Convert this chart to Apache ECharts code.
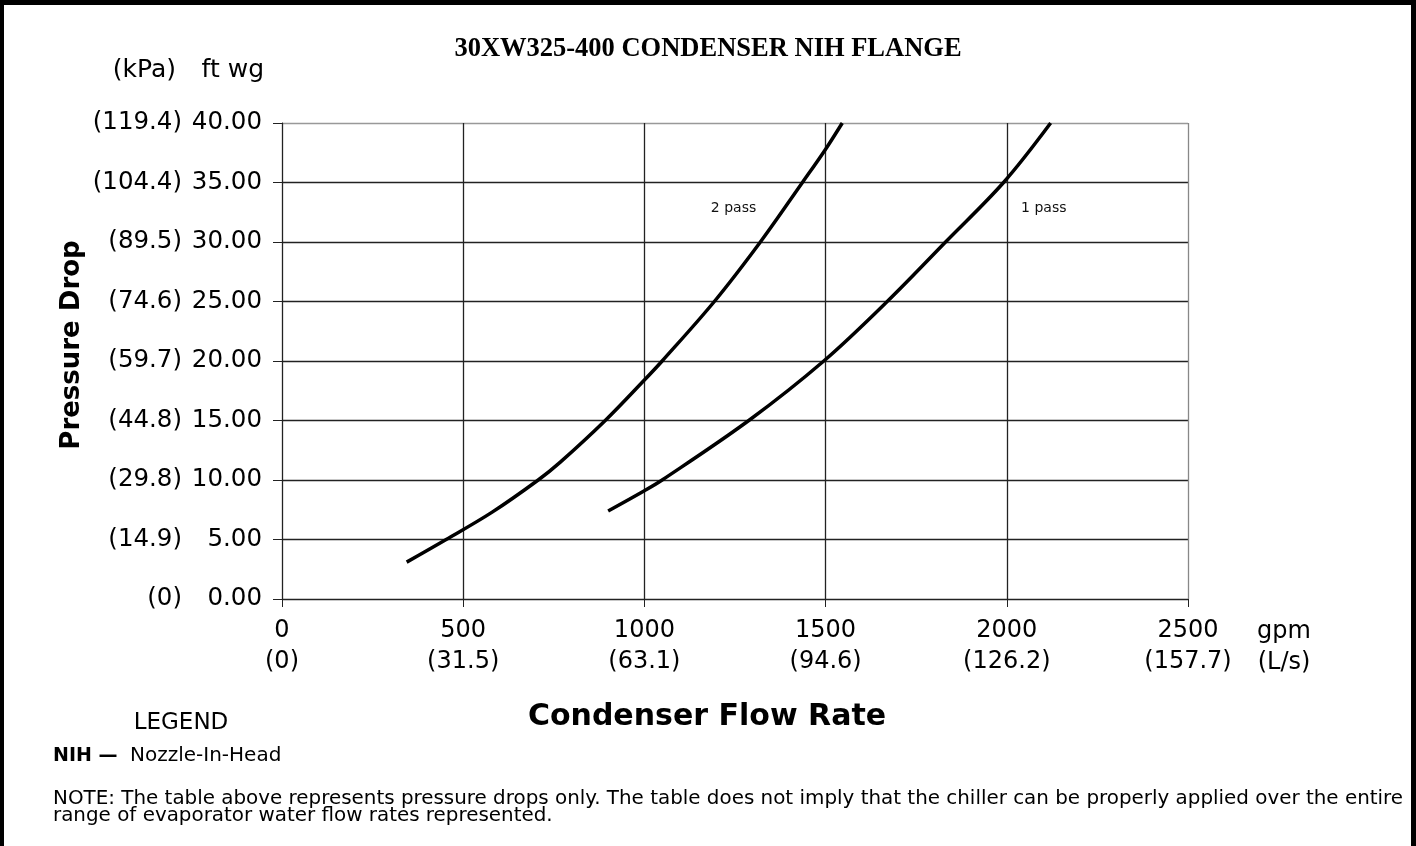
<!DOCTYPE html>
<html>
<head>
<meta charset="utf-8">
<script src="https://cdn.jsdelivr.net/npm/echarts@6/dist/echarts.min.js"></script>
<style>
  html, body { margin: 0; padding: 0; background: #fff; }
  #chart { width: 1416px; height: 846px; }
</style>
</head>
<body>
<div id="chart"></div>
<script>
// axis ticks
const gpmTicks = [0, 500, 1000, 1500, 2000, 2500]
const lpsLabels = ['0', '31.5', '63.1', '94.6', '126.2', '157.7']
const ftTicks = [0, 5, 10, 15, 20, 25, 30, 35, 40]
const kpaLabels = ['0', '14.9', '29.8', '44.8', '59.7', '74.6', '89.5', '104.4', '119.4']

// curves (gpm, ft wg)
const twoPassGpm = [344, 453, 580, 707, 768, 892, 1000, 1049, 1193, 1320, 1436, 1500, 1546]
const twoPassFt = [3.1, 5.0, 7.3, 10.0, 11.5, 15.0, 18.4, 20.0, 25.0, 30.0, 35.0, 37.8, 40.0]
const onePassGpm = [900, 1000, 1049, 1288, 1495, 1670, 1831, 1991, 2121]
const onePassFt = [7.4, 9.1, 10.0, 15.0, 20.0, 25.0, 30.0, 35.0, 40.0]

const font = 'DejaVu Sans'

let myChart = echarts.init(document.getElementById('chart'))

function pairs (xs, ys) {
  return xs.map((x, i) => [x, ys[i]])
}

let option = {
  backgroundColor: '#fff',
  animation: false,
  title: {
    text: '30XW325-400 CONDENSER NIH FLANGE',
    left: 'center',
    top: 31,
    textStyle: {
      fontFamily: 'Liberation Serif',
      fontWeight: 'bold',
      fontSize: 26.5,
      color: '#000'
    }
  },
  grid: {
    left: 282,
    top: 123,
    right: 228,
    bottom: 247,
    containLabel: false
  },
  xAxis: {
    type: 'value',
    min: 0,
    max: 2500,
    interval: 500,
    name: 'gpm\n(L/s)',
    nameLocation: 'end',
    nameGap: 96,
    nameTextStyle: {
      fontFamily: font,
      fontSize: 24,
      color: '#000',
      align: 'center',
      verticalAlign: 'top',
      lineHeight: 31,
      padding: [17, 0, 0, 0]
    },
    axisLine: { lineStyle: { color: '#222', width: 1 } },
    axisTick: { show: true, length: 8, lineStyle: { color: '#222' } },
    axisLabel: {
      fontFamily: font,
      fontSize: 24,
      color: '#000',
      lineHeight: 31,
      margin: 16,
      formatter: function (v) {
        let i = gpmTicks.indexOf(v)
        return v + '\n(' + lpsLabels[i] + ')'
      }
    },
    splitLine: {
      show: true,
      lineStyle: { color: ['#222', '#222', '#222', '#222', '#222', '#888'], width: 1.3 }
    }
  },
  yAxis: {
    type: 'value',
    min: 0,
    max: 40,
    interval: 5,
    axisLine: { show: true, lineStyle: { color: '#222', width: 1 } },
    axisTick: { show: true, length: 9, lineStyle: { color: '#222' } },
    axisLabel: {
      margin: 20,
      formatter: function (v) {
        let i = ftTicks.indexOf(v)
        return '{k|(' + kpaLabels[i] + ')}{f|' + v.toFixed(2) + '}'
      },
      rich: {
        k: { fontFamily: font, fontSize: 24.5, color: '#000', width: 82, align: 'right' },
        f: { fontFamily: font, fontSize: 24.5, color: '#000', width: 80, align: 'right' }
      }
    },
    splitLine: {
      show: true,
      lineStyle: { color: ['#222', '#222', '#222', '#222', '#222', '#222', '#222', '#222', '#999'], width: 1.3 }
    }
  },
  series: [
    {
      name: '2 pass',
      type: 'line',
      smooth: 0.35,
      showSymbol: false,
      data: pairs(twoPassGpm, twoPassFt),
      lineStyle: { color: '#000', width: 3.5 },
      markPoint: {
        symbolSize: 0,
        label: { show: true, formatter: '2 pass', fontFamily: font, fontSize: 14, color: '#111' },
        data: [{ coord: [1246, 32.8] }]
      }
    },
    {
      name: '1 pass',
      type: 'line',
      smooth: 0.35,
      showSymbol: false,
      data: pairs(onePassGpm, onePassFt),
      lineStyle: { color: '#000', width: 3.5 },
      markPoint: {
        symbolSize: 0,
        label: { show: true, formatter: '1 pass', fontFamily: font, fontSize: 14, color: '#111' },
        data: [{ coord: [2102, 32.8] }]
      }
    }
  ],
  graphic: [
    // frame
    { type: 'rect', shape: { x: 0, y: 0, width: 1416, height: 5 }, style: { fill: '#000' } },
    { type: 'rect', shape: { x: 0, y: 0, width: 4, height: 846 }, style: { fill: '#000' } },
    { type: 'rect', shape: { x: 1411, y: 0, width: 5, height: 846 }, style: { fill: '#000' } },
    // unit header
    { type: 'text', x: 176, y: 70, style: { text: '(kPa)', font: '25px "DejaVu Sans"', fill: '#000', align: 'right', verticalAlign: 'middle' } },
    { type: 'text', x: 264, y: 70, style: { text: 'ft wg', font: '25px "DejaVu Sans"', fill: '#000', align: 'right', verticalAlign: 'middle' } },
    // axis titles
    { type: 'text', x: 72, y: 345, rotation: Math.PI / 2, style: { text: 'Pressure Drop', font: 'bold 26px "DejaVu Sans"', fill: '#000', align: 'center', verticalAlign: 'middle' } },
    { type: 'text', x: 707, y: 717, style: { text: 'Condenser Flow Rate', font: 'bold 30px "DejaVu Sans"', fill: '#000', align: 'center', verticalAlign: 'middle' } },
    // legend and note
    { type: 'text', x: 181, y: 723, style: { text: 'LEGEND', font: '23px "DejaVu Sans"', fill: '#000', align: 'center', verticalAlign: 'middle' } },
    { type: 'text', x: 53, y: 756, style: { text: 'NIH —', font: 'bold 19px "DejaVu Sans"', fill: '#000', align: 'left', verticalAlign: 'middle' } },
    { type: 'text', x: 130, y: 756, style: { text: 'Nozzle-In-Head', font: '20px "DejaVu Sans"', fill: '#000', align: 'left', verticalAlign: 'middle' } },
    { type: 'text', x: 53, y: 790, style: { text: 'NOTE: The table above represents pressure drops only. The table does not imply that the chiller can be properly applied over the entire\nrange of evaporator water flow rates represented.', font: '19.9px "DejaVu Sans"', fill: '#000', align: 'left', verticalAlign: 'top', lineHeight: 17.5 } }
  ]
}

myChart.setOption(option, true)
window.addEventListener('resize', function () {
  myChart.resize()
})
</script>
</body>
</html>
